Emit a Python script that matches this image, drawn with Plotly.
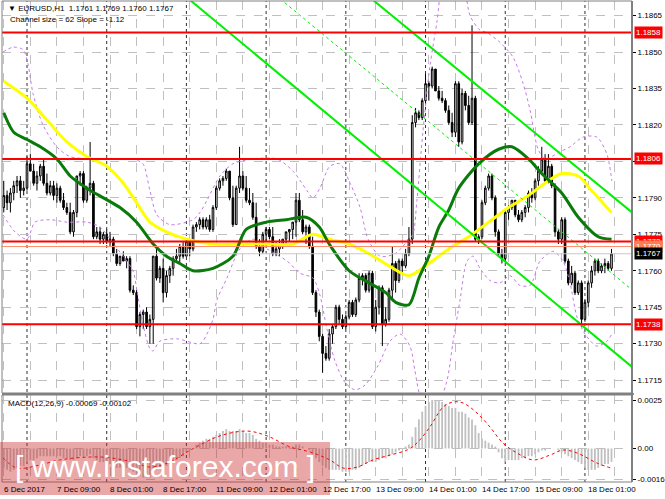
import plotly.graph_objects as go

# ---------------- data (EURUSD H1, prices in points = price*10000) ----------------
bars = list(range(-7, 177))   # bar index, 0 = 7 Dec 00:00

open_pts = [
    11786, 11791, 11788, 11792, 11795, 11797, 11793,
    11794, 11804, 11801, 11796, 11799, 11803, 11796, 11792, 11795, 11791,
    11794, 11789, 11786, 11784, 11776, 11784, 11799, 11800, 11789, 11794,
    11796, 11774, 11776, 11773, 11775, 11772, 11773, 11767, 11763, 11766,
    11764, 11765, 11752, 11751, 11737, 11742, 11743, 11737, 11740, 11766,
    11757, 11761, 11751, 11758, 11761, 11765, 11766, 11770, 11766, 11772,
    11769, 11778, 11779, 11781, 11778, 11781, 11777, 11786, 11794, 11797,
    11798, 11801, 11790, 11779, 11794, 11799, 11794, 11789, 11788, 11782,
    11770, 11768, 11775, 11777, 11774, 11767, 11769, 11771, 11773, 11776,
    11777, 11780, 11789, 11781, 11776, 11778, 11770, 11751, 11743, 11733,
    11726, 11724, 11734, 11737, 11745, 11740, 11737, 11741, 11747, 11742,
    11748, 11757, 11758, 11752, 11759, 11737, 11745, 11753, 11738, 11740,
    11752, 11763, 11756, 11764, 11762, 11767, 11773, 11821, 11825, 11823,
    11830, 11837, 11836, 11843, 11834, 11831, 11830, 11826, 11821, 11817,
    11837, 11813, 11833, 11828, 11821, 11831, 11773, 11774, 11788, 11794,
    11799, 11790, 11776, 11767, 11765, 11784, 11786, 11789, 11783, 11781,
    11784, 11786, 11792, 11790, 11797, 11801, 11806, 11797, 11803, 11795,
    11776, 11773, 11781, 11764, 11755, 11759, 11751, 11755, 11740, 11747,
    11755, 11760, 11764, 11760, 11762, 11763, 11761,
]
high_pts = [
    11797, 11793, 11794, 11797, 11799, 11799, 11797,
    11807, 11808, 11804, 11801, 11804, 11806, 11800, 11797, 11797, 11796,
    11795, 11792, 11788, 11788, 11785, 11799, 11801, 11801, 11795, 11813,
    11797, 11778, 11778, 11776, 11777, 11776, 11774, 11769, 11766, 11768,
    11766, 11766, 11754, 11752, 11743, 11744, 11745, 11742, 11766, 11769,
    11762, 11765, 11760, 11762, 11766, 11769, 11771, 11772, 11773, 11773,
    11779, 11780, 11782, 11782, 11782, 11783, 11787, 11795, 11798, 11799,
    11802, 11801, 11795, 11795, 11811, 11801, 11799, 11794, 11792, 11788,
    11773, 11776, 11778, 11778, 11778, 11772, 11773, 11773, 11776, 11777,
    11780, 11792, 11792, 11785, 11779, 11779, 11774, 11752, 11744, 11734,
    11729, 11736, 11738, 11746, 11746, 11742, 11742, 11748, 11748, 11749,
    11759, 11759, 11759, 11760, 11760, 11748, 11754, 11754, 11745, 11753,
    11770, 11764, 11765, 11765, 11769, 11778, 11824, 11827, 11826, 11831,
    11841, 11838, 11844, 11843, 11836, 11834, 11831, 11828, 11825, 11838,
    11838, 11835, 11834, 11832, 11861, 11832, 11775, 11789, 11795, 11800,
    11800, 11791, 11777, 11769, 11785, 11787, 11789, 11789, 11785, 11785,
    11787, 11793, 11794, 11798, 11803, 11811, 11808, 11808, 11804, 11796,
    11777, 11782, 11782, 11765, 11762, 11760, 11756, 11756, 11748, 11756,
    11762, 11765, 11765, 11763, 11765, 11764, 11769,
]
low_pts = [
    11784, 11785, 11784, 11789, 11792, 11790, 11791,
    11793, 11801, 11795, 11793, 11797, 11795, 11791, 11791, 11789, 11788,
    11788, 11785, 11783, 11775, 11774, 11782, 11795, 11788, 11788, 11791,
    11773, 11773, 11771, 11771, 11771, 11770, 11766, 11762, 11762, 11764,
    11761, 11751, 11750, 11736, 11733, 11736, 11736, 11730, 11730, 11756,
    11755, 11747, 11749, 11755, 11758, 11764, 11763, 11765, 11766, 11766,
    11768, 11776, 11777, 11777, 11777, 11776, 11776, 11785, 11793, 11795,
    11797, 11789, 11778, 11779, 11792, 11793, 11788, 11787, 11781, 11769,
    11766, 11767, 11772, 11773, 11766, 11766, 11766, 11769, 11771, 11772,
    11773, 11774, 11780, 11775, 11771, 11769, 11750, 11741, 11731, 11718,
    11723, 11723, 11730, 11736, 11738, 11736, 11736, 11740, 11741, 11741,
    11747, 11754, 11751, 11751, 11736, 11735, 11742, 11729, 11737, 11739,
    11748, 11751, 11755, 11759, 11761, 11766, 11771, 11819, 11822, 11822,
    11829, 11830, 11835, 11834, 11830, 11829, 11825, 11820, 11815, 11815,
    11811, 11812, 11826, 11820, 11820, 11772, 11771, 11773, 11787, 11793,
    11789, 11774, 11766, 11763, 11764, 11781, 11785, 11782, 11780, 11780,
    11782, 11784, 11788, 11789, 11795, 11800, 11796, 11796, 11794, 11774,
    11771, 11771, 11763, 11754, 11754, 11750, 11750, 11737, 11739, 11745,
    11753, 11758, 11759, 11759, 11759, 11760, 11760,
]
close_pts = [
    11791, 11788, 11792, 11795, 11797, 11793, 11794,
    11804, 11801, 11796, 11799, 11803, 11796, 11792, 11795, 11791, 11794,
    11789, 11786, 11784, 11776, 11784, 11799, 11800, 11789, 11794, 11796,
    11774, 11776, 11773, 11775, 11772, 11773, 11767, 11763, 11766, 11764,
    11765, 11752, 11751, 11737, 11742, 11743, 11737, 11740, 11766, 11757,
    11761, 11751, 11758, 11761, 11765, 11766, 11770, 11766, 11772, 11769,
    11778, 11779, 11781, 11778, 11781, 11777, 11786, 11794, 11797, 11798,
    11801, 11790, 11779, 11794, 11799, 11794, 11789, 11788, 11782, 11770,
    11768, 11775, 11777, 11774, 11767, 11769, 11771, 11773, 11776, 11777,
    11780, 11789, 11781, 11776, 11778, 11770, 11751, 11743, 11733, 11726,
    11724, 11734, 11737, 11745, 11740, 11737, 11741, 11747, 11742, 11748,
    11757, 11758, 11752, 11759, 11737, 11745, 11753, 11738, 11740, 11752,
    11763, 11756, 11764, 11762, 11767, 11773, 11821, 11825, 11823, 11830,
    11837, 11836, 11843, 11834, 11831, 11830, 11826, 11821, 11817, 11837,
    11813, 11833, 11828, 11821, 11831, 11773, 11774, 11788, 11794, 11799,
    11790, 11776, 11767, 11765, 11784, 11786, 11789, 11783, 11781, 11784,
    11786, 11792, 11790, 11797, 11801, 11806, 11797, 11803, 11795, 11776,
    11773, 11781, 11764, 11755, 11759, 11751, 11755, 11740, 11747, 11755,
    11760, 11764, 11760, 11762, 11763, 11761, 11767,
]

# slow MA (yellow) and fast MA (dark green)
ma_slow_bars = [-7, 0, 6, 12, 18, 24, 29, 33, 37, 42, 48, 56, 64, 72, 80, 86, 91, 97, 103, 109,
                115, 121, 127, 133, 139, 145, 151, 157, 161, 166, 170, 176]
ma_slow = [1.1838, 1.1831, 1.1822, 1.1813, 1.1807, 1.1803, 1.1796, 1.1788, 1.1780, 1.1776,
           1.1773, 1.1771, 1.1771, 1.1771, 1.1771, 1.1775, 1.1773, 1.1771, 1.1767, 1.1762,
           1.1758, 1.1763, 1.1769, 1.1774, 1.1780, 1.1786, 1.1791, 1.1797, 1.1800, 1.1799,
           1.1793, 1.1784]
ma_fast_bars = [-7, -4, 0, 4, 9, 13, 18, 23, 28, 33, 38, 42, 46, 50, 56, 62, 66, 72, 78, 84, 88,
                91, 97, 103, 108, 111, 115, 118, 121, 124, 127, 130, 136, 142, 146, 151, 155,
                161, 166, 172, 176]
ma_fast = [1.1825, 1.1817, 1.1814, 1.1811, 1.1806, 1.1799, 1.1794, 1.1790, 1.1786, 1.1780,
           1.1771, 1.1766, 1.1763, 1.1760, 1.1761, 1.1766, 1.1777, 1.1780, 1.1781, 1.1782,
           1.1778, 1.1771, 1.1760, 1.1755, 1.1751, 1.1747, 1.1746, 1.1757, 1.1766, 1.1778,
           1.1785, 1.1794, 1.1804, 1.1810, 1.1811, 1.1806, 1.1800, 1.1792, 1.1782, 1.1774,
           1.1773]

# Bollinger bands (violet dotted)
bb_up_bars = [-7.2, -4.2, -1.2, 0.3, 1.8, 4.8, 9.0, 12.9, 19.9, 25.9, 31.9, 34.9, 37.0, 39.1,
              43.0, 50.0, 52.1, 54.2, 58.1, 62.0, 68.1, 75.3, 80.1, 84.3, 86.1, 88.2, 91.2,
              94.2, 97.3, 100.3, 102.7, 106.3, 110.8, 114.4, 116.2, 117.4, 119.2, 121.3,
              123.5, 125.0, 127.4, 131.3, 133.4, 136.4, 138.5, 142.4, 146.3, 149.4, 151.5,
              153.9, 156.0, 160.5, 163.5, 167.4, 171.6, 174.6, 176.1]
bb_up_pts = [11850, 11852, 11851, 11845, 11833, 11820, 11811, 11807, 11806, 11806, 11806,
             11804, 11793, 11783, 11779, 11781, 11784, 11789, 11799, 11804, 11806, 11806,
             11801, 11793, 11790, 11794, 11803, 11804, 11796, 11786, 11773, 11766, 11767,
             11772, 11775, 11789, 11817, 11844, 11863, 11880, 11890, 11880, 11865, 11859,
             11858, 11854, 11848, 11837, 11826, 11810, 11806, 11809, 11811, 11815, 11815,
             11808, 11797]
bb_dn_bars = [-7.2, -3.6, 0, 2.4, 6.9, 12.0, 18.1, 22.0, 25.0, 28.9, 31.9, 33.1, 34.9, 37.0,
              37.9, 40.0, 45.2, 52.1, 54.2, 56.0, 57.2, 60.2, 64.1, 68.1, 72.3, 78.3, 82.2,
              86.1, 88.2, 90.3, 92.7, 95.8, 98.8, 101.8, 105.7, 109.3, 112.3, 115.3, 116.8,
              118.3, 121.3, 124.4, 126.5, 128.3, 130.4, 132.5, 134.3, 136.4, 139.4, 142.4,
              145.4, 148.4, 151.5, 154.5, 158.4, 161.4, 163.5, 165.6, 168.0, 171.6, 174.6, 176.1]
bb_dn_pts = [11783, 11776, 11773, 11780, 11781, 11780, 11780, 11778, 11773, 11766, 11760,
             11752, 11738, 11728, 11727, 11731, 11732, 11730, 11734, 11740, 11748, 11757,
             11769, 11773, 11769, 11764, 11759, 11757, 11750, 11736, 11723, 11714, 11711,
             11713, 11721, 11731, 11734, 11729, 11719, 11709, 11703, 11707, 11715, 11731,
             11748, 11764, 11766, 11761, 11756, 11755, 11758, 11754, 11754, 11764, 11768,
             11764, 11755, 11741, 11734, 11729, 11731, 11734]

# regression channel (size 62, slope -1.12)
chan_bars = [40, 183]
chan_upper = [1.19433, 1.17831]
chan_mid = [1.19128, 1.17512]
chan_lower = [1.18817, 1.17195]

# horizontal levels
red_levels = [1.1858, 1.1806, 1.1772, 1.1738]
orange_level = 1.1770
bid_level = 1.1767

# MACD(12,26,9)
macd_main = [
    -0.0010, -0.0011, -0.0012, -0.0011, -0.0010, -0.0009, -0.0009,
    -0.0007, -0.0006, -0.0006, -0.0005, -0.0004, -0.0004, -0.0004, -0.0004, -0.0004, -0.0004,
    -0.0004, -0.0005, -0.0005, -0.0006, -0.0006, -0.0005, -0.0004, -0.0004, -0.0004, -0.0003,
    -0.0005, -0.0006, -0.0007, -0.0007, -0.0008, -0.0008, -0.0009, -0.0010, -0.0010, -0.0010,
    -0.0010, -0.0011, -0.0012, -0.0013, -0.0014, -0.0015, -0.0015, -0.0015, -0.0012, -0.0011,
    -0.0010, -0.0010, -0.0009, -0.0008, -0.0007, -0.0006, -0.0005, -0.0004, -0.0002, -0.0001,
    0.0000, 0.0002, 0.0003, 0.0004, 0.0005, 0.0005, 0.0006, 0.0007, 0.0008, 0.0009,
    0.0010, 0.0009, 0.0009, 0.0009, 0.0010, 0.0009, 0.0008, 0.0008, 0.0007, 0.0005,
    0.0004, 0.0003, 0.0003, 0.0002, 0.0002, 0.0001, 0.0001, 0.0001, 0.0001, 0.0001,
    0.0001, 0.0002, 0.0002, 0.0001, 0.0000, -0.0001, -0.0003, -0.0005, -0.0007, -0.0009,
    -0.0010, -0.0011, -0.0011, -0.0011, -0.0011, -0.0012, -0.0012, -0.0012, -0.0011, -0.0011,
    -0.0010, -0.0009, -0.0008, -0.0007, -0.0007, -0.0007, -0.0006, -0.0005, -0.0005, -0.0004,
    -0.0003, -0.0002, -0.0001, 0.0000, 0.0001, 0.0002, 0.0006, 0.0011, 0.0015, 0.0019,
    0.0022, 0.0024, 0.0025, 0.0025, 0.0025, 0.0024, 0.0023, 0.0022, 0.0021, 0.0021,
    0.0019, 0.0019, 0.0018, 0.0016, 0.0015, 0.0012, 0.0008, 0.0005, 0.0004, 0.0003,
    0.0002, 0.0001, -0.0002, -0.0005, -0.0007, -0.0006, -0.0006, -0.0006, -0.0006, -0.0005,
    -0.0005, -0.0004, -0.0004, -0.0003, -0.0002, -0.0001, -0.0001, 0.0000, 0.0000, 0.0000,
    -0.0001, -0.0002, -0.0003, -0.0004, -0.0005, -0.0006, -0.0007, -0.0008, -0.0010, -0.0011,
    -0.0011, -0.0011, -0.0010, -0.0009, -0.0008, -0.0008, -0.00069,
]
sig_bars = [-7.2, -3, 3.9, 9.9, 22, 31.9, 37, 43, 48.2, 52.1, 58.1, 66.2, 72.3, 79.2, 85.2,
            91.2, 95.2, 99.4, 104.2, 109.3, 114.4, 117.4, 121.3, 125.3, 128.3, 131.3, 135.5,
            139.4, 143.3, 147.5, 152.4, 157.5, 161.4, 165.6, 171.6, 176]
sig_vals = [-0.00049, -0.00101, -0.00085, -0.00059, -0.00044, -0.0007, -0.00096, -0.0007,
            -0.00018, 0.00018, 0.00065, 0.0009, 0.00065, 0.00008, -0.00018, -0.00059,
            -0.00101, -0.00096, -0.00059, -0.00034, -0.00008, 0.00028, 0.00111, 0.00214,
            0.0024, 0.00235, 0.00183, 0.00111, 0.00028, -0.00023, -0.00059, -0.00034,
            -0.00008, -0.00023, -0.00075, -0.00102]

# axes
grid_bars = list(range(-7, 178, 8))
day_bars = [0, 24, 48, 72, 96, 120, 144, 168]
tick_bars = [-7, 9, 25, 41, 57, 73, 89, 105, 121, 137, 153, 169]
tick_text = ["6 Dec 2017", "7 Dec 09:00", "8 Dec 01:00", "8 Dec 17:00", "11 Dec 09:00",
             "12 Dec 01:00", "12 Dec 17:00", "13 Dec 09:00", "14 Dec 01:00", "14 Dec 17:00",
             "15 Dec 09:00", "18 Dec 01:00"]
price_ticks = [1.1715, 1.1730, 1.1745, 1.1760, 1.1775, 1.1790, 1.1805, 1.1820, 1.1835, 1.1850, 1.1865]
macd_ticks = [0.0025, 0.0, -0.0016]
macd_tick_text = ["0.0025", "0.00", "-0.0016"]

# ---------------- figure ----------------
def pr(v):
    return [p / 10000 for p in v]

FONT = "Liberation Sans, Arial, sans-serif"
fig = go.Figure()

fig.add_trace(go.Candlestick(
    x=bars, open=pr(open_pts), high=pr(high_pts), low=pr(low_pts), close=pr(close_pts),
    increasing=dict(line=dict(color="black", width=1), fillcolor="#E8E8E8"),
    decreasing=dict(line=dict(color="black", width=1), fillcolor="black"),
    whiskerwidth=0, showlegend=False, hoverinfo="skip", xaxis="x", yaxis="y"))

for bx, by in [(bb_up_bars, bb_up_pts), (bb_dn_bars, bb_dn_pts)]:
    fig.add_trace(go.Scatter(x=bx, y=pr(by), mode="lines", xaxis="x", yaxis="y",
                             line=dict(color="#C27BE8", width=1, dash="dot", shape="spline", smoothing=0.8),
                             showlegend=False, hoverinfo="skip"))

fig.add_trace(go.Scatter(x=ma_slow_bars, y=ma_slow, mode="lines", xaxis="x", yaxis="y",
                         line=dict(color="#FFFF00", width=3, shape="spline", smoothing=0.8),
                         showlegend=False, hoverinfo="skip"))
fig.add_trace(go.Scatter(x=ma_fast_bars, y=ma_fast, mode="lines", xaxis="x", yaxis="y",
                         line=dict(color="#0A7A0A", width=3, shape="spline", smoothing=0.8),
                         showlegend=False, hoverinfo="skip"))

fig.add_trace(go.Scatter(x=chan_bars, y=chan_upper, mode="lines", xaxis="x", yaxis="y",
                         line=dict(color="#00F000", width=2), showlegend=False, hoverinfo="skip"))
fig.add_trace(go.Scatter(x=chan_bars, y=chan_lower, mode="lines", xaxis="x", yaxis="y",
                         line=dict(color="#00F000", width=2), showlegend=False, hoverinfo="skip"))
fig.add_trace(go.Scatter(x=chan_bars, y=chan_mid, mode="lines", xaxis="x", yaxis="y",
                         line=dict(color="#00F000", width=1, dash="dot"), showlegend=False, hoverinfo="skip"))

fig.add_trace(go.Bar(x=bars, y=macd_main, marker=dict(color="#C0C0C0", line=dict(width=0)),
                     width=0.55, xaxis="x2", yaxis="y2", showlegend=False, hoverinfo="skip"))
fig.add_trace(go.Scatter(x=sig_bars, y=sig_vals, mode="lines", xaxis="x2", yaxis="y2",
                         line=dict(color="#FF0000", width=1, dash="dot", shape="spline"),
                         showlegend=False, hoverinfo="skip"))

MAIN_BOT = 0.18503
MACD_TOP = 0.18087

shapes = []
for b in day_bars:
    shapes.append(dict(type="line", xref="x", yref="paper", x0=b, x1=b, y0=0, y1=1,
                       line=dict(color="#303030", width=1, dash="dot"), layer="below"))
for lv in red_levels:
    shapes.append(dict(type="line", xref="paper", yref="y", x0=0, x1=1, y0=lv, y1=lv,
                       line=dict(color="#FF0000", width=2), layer="above"))
shapes.append(dict(type="line", xref="paper", yref="y", x0=0, x1=1, y0=orange_level, y1=orange_level,
                   line=dict(color="#FF8C69", width=1), layer="above"))
shapes.append(dict(type="line", xref="paper", yref="y", x0=0, x1=1, y0=bid_level, y1=bid_level,
                   line=dict(color="#C8C8C8", width=1), layer="above"))
# frames
shapes.append(dict(type="rect", xref="paper", yref="paper", x0=0, x1=1, y0=MAIN_BOT, y1=1,
                   line=dict(color="#808080", width=1), layer="above"))
shapes.append(dict(type="rect", xref="paper", yref="paper", x0=0, x1=1, y0=0, y1=MACD_TOP,
                   line=dict(color="#808080", width=1), layer="above"))
shapes.append(dict(type="rect", xref="paper", yref="paper", x0=0, x1=1.003, y0=MACD_TOP, y1=MAIN_BOT,
                   fillcolor="#808080", line=dict(width=0), layer="above"))
shapes.append(dict(type="line", xref="paper", yref="paper", x0=1, x1=1, y0=0, y1=1,
                   line=dict(color="#808080", width=2), layer="above"))
# watermark band
shapes.append(dict(type="rect", xref="paper", yref="paper", x0=-0.004, x1=0.5206, y0=-0.027, y1=0.0832,
                   fillcolor="rgba(205,45,45,0.42)", line=dict(width=0), layer="above"))

ann = []
ann.append(dict(text="\u25bc EURUSD,H1  1.1761 1.1769 1.1760 1.1767", xref="paper", yref="paper",
                x=0.0063, y=0.9834, xanchor="left", yanchor="middle", showarrow=False,
                font=dict(size=8, color="black", family=FONT)))
ann.append(dict(text="Channel size = 62 Slope = -1.12", xref="paper", yref="paper",
                x=0.0095, y=0.9605, xanchor="left", yanchor="middle", showarrow=False,
                font=dict(size=8, color="black", family=FONT)))
ann.append(dict(text="MACD(12,26,9) -0.00069 -0.00102", xref="paper", yref="paper",
                x=0.0063, y=0.1622, xanchor="left", yanchor="middle", showarrow=False,
                font=dict(size=8, color="black", family=FONT)))
for b, t in zip(tick_bars, tick_text):
    ann.append(dict(text=t, xref="x", yref="paper", x=b, y=0, xanchor="left", yanchor="top",
                    xshift=-2, yshift=-1, showarrow=False, font=dict(size=8, color="black", family=FONT)))

def price_box(val, bg):
    return dict(text=f"{val:.4f}", xref="paper", yref="y", x=1, y=val, xanchor="left",
                yanchor="middle", xshift=2, showarrow=False, bgcolor=bg, borderpad=1,
                font=dict(size=8, color="white", family=FONT))

for lv in red_levels:
    ann.append(price_box(lv, "#FF0000"))
ann.append(price_box(orange_level, "#FF7F50"))
ann.append(price_box(bid_level, "#000000"))

ann.append(dict(text="[ www.instaforex.com ]", xref="paper", yref="paper", x=0.2587, y=0.0312,
                xanchor="center", yanchor="middle", showarrow=False,
                font=dict(size=30, color="white", family=FONT)))

grid = dict(showgrid=True, gridcolor="#C0C0C0", griddash="dash", gridwidth=1, zeroline=False)

fig.update_layout(
    width=665, height=499,
    margin=dict(l=2, r=33, t=1, b=17),
    paper_bgcolor="white", plot_bgcolor="white",
    font=dict(family=FONT, size=8, color="black"),
    showlegend=False,
    xaxis=dict(domain=[0, 1], anchor="y", range=[-7.53, 182.17], tickvals=grid_bars,
               showticklabels=False, ticks="", rangeslider=dict(visible=False), **grid),
    xaxis2=dict(domain=[0, 1], anchor="y2", matches="x", range=[-7.53, 182.17], tickvals=grid_bars,
                showticklabels=False, ticks="", **grid),
    yaxis=dict(domain=[MAIN_BOT, 1], anchor="x", side="right", range=[1.17097, 1.18710],
               tickvals=price_ticks, ticktext=[f"{v:.4f}" for v in price_ticks],
               ticks="outside", ticklen=3, tickcolor="black", automargin=False,
               tickfont=dict(size=8, family=FONT), **grid),
    yaxis2=dict(domain=[0, MACD_TOP], anchor="x2", side="right", range=[-0.00173, 0.00276],
                tickvals=macd_ticks, ticktext=macd_tick_text, ticks="outside", ticklen=3,
                tickcolor="black", automargin=False, tickfont=dict(size=8, family=FONT), **grid),
    shapes=shapes, annotations=ann,
)

fig.write_html("out.html", config={"displayModeBar": False, "staticPlot": True},
               post_script="document.body.style.margin='0';document.body.style.padding='0';")
